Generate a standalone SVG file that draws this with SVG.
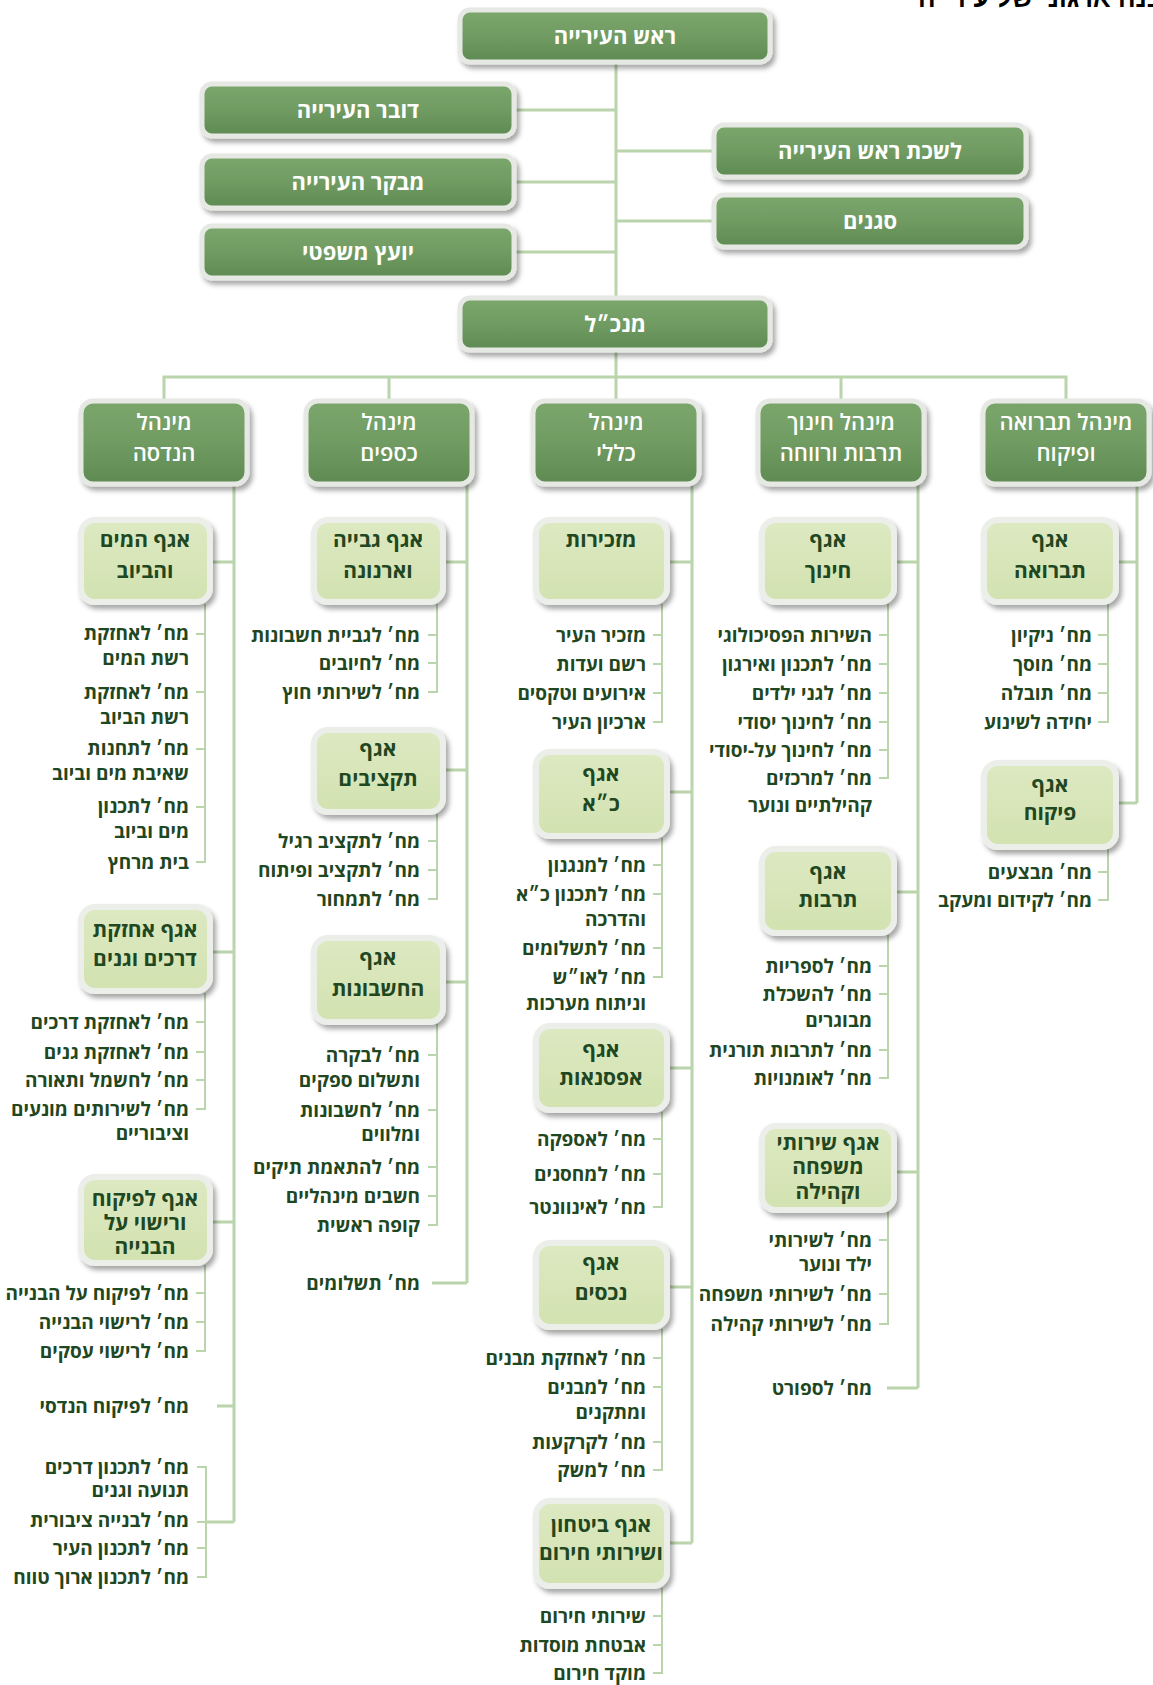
<svg xmlns="http://www.w3.org/2000/svg" width="1153" height="1685" viewBox="0 0 1153 1685">
<defs>
<linearGradient id="gd" x1="0" y1="0" x2="0" y2="1">
<stop offset="0" stop-color="#7ba66c"/><stop offset="0.5" stop-color="#709b62"/><stop offset="1" stop-color="#5e8b52"/>
</linearGradient>
<linearGradient id="gl" x1="0" y1="0" x2="0" y2="1">
<stop offset="0" stop-color="#dde9c2"/><stop offset="1" stop-color="#d2e2b0"/>
</linearGradient>
<filter id="sh" x="-10%" y="-15%" width="125%" height="140%">
<feDropShadow dx="3" dy="4" stdDeviation="2.5" flood-color="#000" flood-opacity="0.35"/>
</filter>
<style>
.dk{fill:url(#gd);stroke:#e6e8e4;stroke-width:5;filter:url(#sh)}
.lt{fill:url(#gl);stroke:#eceeea;stroke-width:6;filter:url(#sh)}
.tw{font-family:"Open Sans","Liberation Sans",sans-serif;font-size:22px;font-weight:700;fill:#fff;text-anchor:middle}
.tm{font-family:"Open Sans","Liberation Sans",sans-serif;font-size:22px;font-weight:600;fill:#fff;text-anchor:middle}
.tl{font-family:"Open Sans","Liberation Sans",sans-serif;font-size:21px;font-weight:700;fill:#1f4721;text-anchor:middle}
.it{font-family:"Open Sans","Liberation Sans",sans-serif;font-size:19px;font-weight:700;fill:#1f4721;text-anchor:end}
.ti{font-family:"Liberation Sans",sans-serif;font-size:26px;font-weight:700;fill:#000;text-anchor:start}
.ln{stroke:#bad4ab;stroke-width:3;fill:none}
.sl{stroke:#bad4ab;stroke-width:2;fill:none}
</style>
</defs>
<rect width="1153" height="1685" fill="#fff"/>
<text class="ti" x="918" y="7">מבנה ארגוני של עירייה</text>

<g id="connectors">
<path class="ln" d="M616 62 V298 M616 350 V401 M513 110 H616 M513 182 H616 M513 252 H616 M616 151 H715 M616 221 H715"/>
<path class="ln" d="M164 401 V377 H1066 V401 M389 377 V401 M841 377 V401"/>
<path class="ln" d="M234 484 V1522 M467 484 V1283 M692 484 V1543 M918 484 V1388 M1137 484 V803"/>
<path class="ln" d="M209 562 H234 M209 952 H234 M209 1222 H234 M442 562 H467 M442 770 H467 M442 982 H467 M666 562 H692 M666 792 H692 M666 1068 H692 M666 1287 H692 M666 1543 H692 M893 562 H918 M893 892 H918 M893 1172 H918 M1115 562 H1137 M1115 803 H1137"/>
<path class="ln" d="M217 1406 H234 M206 1522 H234 M432 1283 H467 M887 1388 H918"/>
<path class="sl" d="M205 604 V862 H196 M196 634 H205 M196 692 H205 M196 749 H205 M196 807 H205"/>
<path class="sl" d="M205 993 V1109 H196 M196 1022 H205 M196 1052 H205 M196 1080 H205"/>
<path class="sl" d="M205 1265 V1351 H196 M196 1293 H205 M196 1322 H205"/>
<path class="sl" d="M197 1467 H206 V1577 H197 M197 1522 H206 M197 1548 H206"/>
<path class="sl" d="M437 604 V692 H428 M428 635 H437 M428 663 H437"/>
<path class="sl" d="M437 814 V899 H428 M428 841 H437 M428 870 H437"/>
<path class="sl" d="M437 1024 V1225 H428 M428 1055 H437 M428 1110 H437 M428 1167 H437 M428 1196 H437"/>
<path class="sl" d="M662 604 V722 H653 M653 635 H662 M653 664 H662 M653 693 H662"/>
<path class="sl" d="M662 838 V977 H653 M653 865 H662 M653 894 H662 M653 948 H662"/>
<path class="sl" d="M662 1112 V1207 H653 M653 1139 H662 M653 1174 H662"/>
<path class="sl" d="M662 1329 V1470 H653 M653 1358 H662 M653 1387 H662 M653 1442 H662"/>
<path class="sl" d="M662 1588 V1673 H653 M653 1616 H662 M653 1645 H662"/>
<path class="sl" d="M888 604 V778 H879 M879 635 H888 M879 664 H888 M879 693 H888 M879 722 H888 M879 750 H888"/>
<path class="sl" d="M888 935 V1078 H879 M879 966 H888 M879 994 H888 M879 1050 H888"/>
<path class="sl" d="M888 1212 V1324 H879 M879 1240 H888 M879 1294 H888"/>
<path class="sl" d="M1108 604 V722 H1098 M1098 635 H1108 M1098 664 H1108 M1098 693 H1108"/>
<path class="sl" d="M1108 849 V900 H1098 M1098 872 H1108"/>
</g>

<g id="n-mayor"><rect class="dk" x="460" y="10" width="310" height="52" rx="10"/><text class="tw" x="615" y="44">ראש העירייה</text></g>
<g id="n-spokesman"><rect class="dk" x="202" y="84" width="312" height="52" rx="10"/><text class="tw" x="358" y="118">דובר העירייה</text></g>
<g id="n-comptroller"><rect class="dk" x="202" y="156" width="312" height="52" rx="10"/><text class="tw" x="358" y="190">מבקר העירייה</text></g>
<g id="n-legal"><rect class="dk" x="202" y="226" width="312" height="52" rx="10"/><text class="tw" x="358" y="260">יועץ משפטי</text></g>
<g id="n-office"><rect class="dk" x="714" y="125" width="312" height="52" rx="10"/><text class="tw" x="870" y="159">לשכת ראש העירייה</text></g>
<g id="n-deputies"><rect class="dk" x="714" y="195" width="312" height="52" rx="10"/><text class="tw" x="870" y="229">סגנים</text></g>
<g id="n-ceo"><rect class="dk" x="460" y="298" width="310" height="52" rx="10"/><text class="tw" x="615" y="332">מנכ״ל</text></g>

<g id="n-eng"><rect class="dk" x="81" y="401" width="166" height="83" rx="12"/><text class="tm" x="164" y="430">מינהל</text><text class="tm" x="164" y="461">הנדסה</text></g>
<g id="n-fin"><rect class="dk" x="306" y="401" width="166" height="83" rx="12"/><text class="tm" x="389" y="430">מינהל</text><text class="tm" x="389" y="461">כספים</text></g>
<g id="n-gen"><rect class="dk" x="533" y="401" width="166" height="83" rx="12"/><text class="tm" x="616" y="430">מינהל</text><text class="tm" x="616" y="461">כללי</text></g>
<g id="n-edu"><rect class="dk" x="758" y="401" width="166" height="83" rx="12"/><text class="tm" x="841" y="430">מינהל חינוך</text><text class="tm" x="841" y="461">תרבות ורווחה</text></g>
<g id="n-san"><rect class="dk" x="983" y="401" width="166" height="83" rx="12"/><text class="tm" x="1066" y="430">מינהל תברואה</text><text class="tm" x="1066" y="461">ופיקוח</text></g>

<g id="n-water"><rect class="lt" x="81" y="520" width="129" height="82" rx="14"/><text class="tl" x="145" y="547">אגף המים</text><text class="tl" x="145" y="578">והביוב</text></g>
<g id="n-roads"><rect class="lt" x="81" y="907" width="129" height="84" rx="14"/><text class="tl" x="145" y="937">אגף אחזקת</text><text class="tl" x="145" y="966">דרכים וגנים</text></g>
<g id="n-building"><rect class="lt" x="81" y="1177" width="129" height="86" rx="14"/><text class="tl" x="145" y="1206">אגף לפיקוח</text><text class="tl" x="145" y="1230">ורישוי על</text><text class="tl" x="145" y="1254">הבנייה</text></g>

<g id="n-collect"><rect class="lt" x="314" y="520" width="129" height="82" rx="14"/><text class="tl" x="378" y="547">אגף גבייה</text><text class="tl" x="378" y="578">וארנונה</text></g>
<g id="n-budget"><rect class="lt" x="314" y="730" width="129" height="82" rx="14"/><text class="tl" x="378" y="756">אגף</text><text class="tl" x="378" y="786">תקציבים</text></g>
<g id="n-accounts"><rect class="lt" x="314" y="938" width="129" height="84" rx="14"/><text class="tl" x="378" y="965">אגף</text><text class="tl" x="378" y="996">החשבונות</text></g>

<g id="n-secretary"><rect class="lt" x="536" y="520" width="131" height="82" rx="14"/><text class="tl" x="601" y="547">מזכירות</text></g>
<g id="n-hr"><rect class="lt" x="536" y="752" width="131" height="84" rx="14"/><text class="tl" x="601" y="781">אגף</text><text class="tl" x="601" y="811">כ״א</text></g>
<g id="n-supply"><rect class="lt" x="536" y="1026" width="131" height="84" rx="14"/><text class="tl" x="601" y="1057">אגף</text><text class="tl" x="601" y="1085">אפסנאות</text></g>
<g id="n-assets"><rect class="lt" x="536" y="1243" width="131" height="84" rx="14"/><text class="tl" x="601" y="1270">אגף</text><text class="tl" x="601" y="1300">נכסים</text></g>
<g id="n-security"><rect class="lt" x="536" y="1501" width="131" height="85" rx="14"/><text class="tl" x="601" y="1532">אגף ביטחון</text><text class="tl" x="601" y="1560">ושירותי חירום</text></g>

<g id="n-education"><rect class="lt" x="762" y="520" width="132" height="82" rx="14"/><text class="tl" x="828" y="547">אגף</text><text class="tl" x="828" y="578">חינוך</text></g>
<g id="n-culture"><rect class="lt" x="762" y="849" width="132" height="84" rx="14"/><text class="tl" x="828" y="879">אגף</text><text class="tl" x="828" y="907">תרבות</text></g>
<g id="n-welfare"><rect class="lt" x="762" y="1126" width="132" height="84" rx="14"/><text class="tl" x="828" y="1150">אגף שירותי</text><text class="tl" x="828" y="1174">משפחה</text><text class="tl" x="828" y="1199">וקהילה</text></g>

<g id="n-sanitation"><rect class="lt" x="984" y="520" width="132" height="82" rx="14"/><text class="tl" x="1050" y="547">אגף</text><text class="tl" x="1050" y="578">תברואה</text></g>
<g id="n-inspection"><rect class="lt" x="984" y="763" width="132" height="84" rx="14"/><text class="tl" x="1050" y="792">אגף</text><text class="tl" x="1050" y="820">פיקוח</text></g>

<g id="items-eng">
<text class="it" x="189" y="640">מח׳ לאחזקת</text><text class="it" x="189" y="665">רשת המים</text>
<text class="it" x="189" y="699">מח׳ לאחזקת</text><text class="it" x="189" y="724">רשת הביוב</text>
<text class="it" x="189" y="755">מח׳ לתחנות</text><text class="it" x="189" y="780">שאיבת מים וביוב</text>
<text class="it" x="189" y="813">מח׳ לתכנון</text><text class="it" x="189" y="838">מים וביוב</text>
<text class="it" x="189" y="869">בית מרחץ</text>
<text class="it" x="189" y="1029">מח׳ לאחזקת דרכים</text>
<text class="it" x="189" y="1059">מח׳ לאחזקת גנים</text>
<text class="it" x="189" y="1087">מח׳ לחשמל ותאורה</text>
<text class="it" x="189" y="1116">מח׳ לשירותים מונעים</text><text class="it" x="189" y="1140">וציבוריים</text>
<text class="it" x="189" y="1300">מח׳ לפיקוח על הבנייה</text>
<text class="it" x="189" y="1329">מח׳ לרישוי הבנייה</text>
<text class="it" x="189" y="1358">מח׳ לרישוי עסקים</text>
<text class="it" x="189" y="1413">מח׳ לפיקוח הנדסי</text>
<text class="it" x="189" y="1474">מח׳ לתכנון דרכים</text><text class="it" x="189" y="1497">תנועה וגנים</text>
<text class="it" x="189" y="1527">מח׳ לבנייה ציבורית</text>
<text class="it" x="189" y="1555">מח׳ לתכנון העיר</text>
<text class="it" x="189" y="1584">מח׳ לתכנון ארוך טווח</text>
</g>

<g id="items-fin">
<text class="it" x="420" y="642">מח׳ לגביית חשבונות</text>
<text class="it" x="420" y="670">מח׳ לחיובים</text>
<text class="it" x="420" y="699">מח׳ לשירותי חוץ</text>
<text class="it" x="420" y="848">מח׳ לתקציב רגיל</text>
<text class="it" x="420" y="877">מח׳ לתקציב ופיתוח</text>
<text class="it" x="420" y="906">מח׳ לתמחור</text>
<text class="it" x="420" y="1062">מח׳ לבקרה</text><text class="it" x="420" y="1087">ותשלום ספקים</text>
<text class="it" x="420" y="1117">מח׳ לחשבונות</text><text class="it" x="420" y="1141">ומלווים</text>
<text class="it" x="420" y="1174">מח׳ להתאמת תיקים</text>
<text class="it" x="420" y="1203">חשבים מינהליים</text>
<text class="it" x="420" y="1232">קופה ראשית</text>
<text class="it" x="420" y="1290">מח׳ תשלומים</text>
</g>

<g id="items-gen">
<text class="it" x="646" y="642">מזכיר העיר</text>
<text class="it" x="646" y="671">רשם ועדות</text>
<text class="it" x="646" y="700">אירועים וטקסים</text>
<text class="it" x="646" y="729">ארכיון העיר</text>
<text class="it" x="646" y="872">מח׳ למנגנון</text>
<text class="it" x="646" y="901">מח׳ לתכנון כ״א</text><text class="it" x="646" y="926">והדרכה</text>
<text class="it" x="646" y="955">מח׳ לתשלומים</text>
<text class="it" x="646" y="984">מח׳ לאו״ש</text><text class="it" x="646" y="1010">וניתוח מערכות</text>
<text class="it" x="646" y="1146">מח׳ לאספקה</text>
<text class="it" x="646" y="1181">מח׳ למחסנים</text>
<text class="it" x="646" y="1214">מח׳ לאינוונטר</text>
<text class="it" x="646" y="1365">מח׳ לאחזקת מבנים</text>
<text class="it" x="646" y="1394">מח׳ למבנים</text><text class="it" x="646" y="1419">ומתקנים</text>
<text class="it" x="646" y="1449">מח׳ לקרקעות</text>
<text class="it" x="646" y="1477">מח׳ למשק</text>
<text class="it" x="646" y="1623">שירותי חירום</text>
<text class="it" x="646" y="1652">אבטחת מוסדות</text>
<text class="it" x="646" y="1680">מוקד חירום</text>
</g>

<g id="items-edu">
<text class="it" x="872" y="642">השירות הפסיכולוגי</text>
<text class="it" x="872" y="671">מח׳ לתכנון ואירגון</text>
<text class="it" x="872" y="700">מח׳ לגני ילדים</text>
<text class="it" x="872" y="729">מח׳ לחינוך יסודי</text>
<text class="it" x="872" y="757">מח׳ לחינוך על-יסודי</text>
<text class="it" x="872" y="785">מח׳ למרכזים</text><text class="it" x="872" y="812">קהילתיים ונוער</text>
<text class="it" x="872" y="973">מח׳ לספריות</text>
<text class="it" x="872" y="1001">מח׳ להשכלת</text><text class="it" x="872" y="1027">מבוגרים</text>
<text class="it" x="872" y="1057">מח׳ לתרבות תורנית</text>
<text class="it" x="872" y="1085">מח׳ לאומנויות</text>
<text class="it" x="872" y="1247">מח׳ לשירותי</text><text class="it" x="872" y="1271">ילד ונוער</text>
<text class="it" x="872" y="1301">מח׳ לשירותי משפחה</text>
<text class="it" x="872" y="1331">מח׳ לשירותי קהילה</text>
<text class="it" x="872" y="1395">מח׳ לספורט</text>
</g>

<g id="items-san">
<text class="it" x="1092" y="642">מח׳ ניקיון</text>
<text class="it" x="1092" y="671">מח׳ מוסך</text>
<text class="it" x="1092" y="700">מח׳ תובלה</text>
<text class="it" x="1092" y="729">יחידה לשינוע</text>
<text class="it" x="1092" y="879">מח׳ מבצעים</text>
<text class="it" x="1092" y="907">מח׳ לקידום ומעקב</text>
</g>
</svg>
